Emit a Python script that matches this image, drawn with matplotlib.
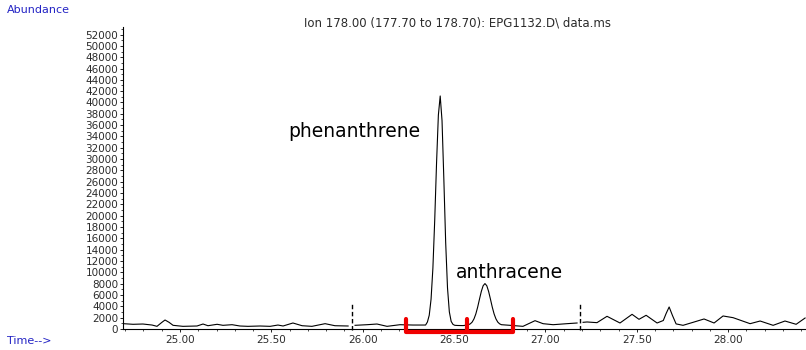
import matplotlib

matplotlib.use("Agg")

import matplotlib.pyplot as plt
from matplotlib.ticker import FormatStrFormatter, MultipleLocator

# Ion 178 trace, one list pair per acquisition segment (time in min, abundance)
seg1_time = [
    24.690, 24.743, 24.797, 24.847, 24.874, 24.901, 24.918, 24.940, 24.962,
    25.016, 25.093, 25.126, 25.153, 25.203, 25.235, 25.285, 25.328, 25.372,
    25.438, 25.493, 25.536, 25.564, 25.618, 25.668, 25.722, 25.794, 25.848,
    25.920,
]
seg1_abund = [
    940, 830, 880, 700, 470, 1180, 1590, 1180, 650,
    470, 530, 880, 580, 830, 650, 760, 530, 470,
    530, 470, 700, 530, 1060, 580, 470, 940, 580,
    530,
]

seg2_time = [
    25.958, 26.024, 26.078, 26.133, 26.204, 26.275, 26.344,
    26.354, 26.364, 26.374, 26.384, 26.394, 26.404, 26.414, 26.424,
    26.434, 26.444, 26.454, 26.464, 26.474, 26.484, 26.494, 26.504,
    26.520, 26.550, 26.579, 26.589, 26.599, 26.609, 26.619, 26.629,
    26.639, 26.649, 26.659, 26.669, 26.679, 26.689, 26.699, 26.709,
    26.719, 26.729, 26.739, 26.749, 26.759, 26.806, 26.877, 26.943,
    26.987, 27.042, 27.118, 27.173,
]
seg2_abund = [
    650, 760, 880, 470, 760, 700, 700,
    1230, 2430, 5270, 10750, 19200, 29280, 37780, 41150,
    36800, 26410, 15250, 7250, 3030, 1340, 810, 650,
    620, 600, 760, 915, 1225, 1790, 2660, 3860,
    5270, 6630, 7640, 8020, 7640, 6630, 5270, 3860,
    2660, 1790, 1225, 915, 760, 650, 470, 1470,
    940, 760, 940, 1060,
]

seg3_time = [
    27.206, 27.228, 27.282, 27.337, 27.408, 27.474, 27.512, 27.551,
    27.611, 27.645, 27.660, 27.677, 27.695, 27.715, 27.753, 27.808,
    27.868, 27.923, 27.972, 28.027, 28.120, 28.175, 28.246, 28.311,
    28.372, 28.421,
]
seg3_abund = [
    1180, 1240, 1120, 2240, 1060, 2590, 1710, 2420,
    1060, 1500, 2700, 3890, 2400, 900, 650, 1180,
    1770, 1060, 2300, 2000, 940, 1410, 650, 1410,
    830, 1940,
]

segment_breaks = [25.94, 27.19]
integration_times = [26.237, 26.571, 26.823]

x_ticks = [25.0, 25.5, 26.0, 26.5, 27.0, 27.5, 28.0]
y_ticks = list(range(0, 52001, 2000))

title = "Ion 178.00 (177.70 to 178.70): EPG1132.D\\ data.ms"

blue = "#2323c4"
ink = "#2b2b2b"

fig = plt.figure(figsize=(8.06, 3.5), dpi=100)
ax = fig.add_axes([123 / 806, 21 / 350, 683 / 806, 302 / 350])

for times, values in [
    (seg1_time, seg1_abund),
    (seg2_time, seg2_abund),
    (seg3_time, seg3_abund),
]:
    ax.plot(times, values, color="black", linewidth=0.8)

# segment boundaries
for t in segment_breaks:
    ax.plot(
        [t, t],
        [-200, 4800],
        color="black",
        linewidth=1.0,
        linestyle=(0, (3.2, 1.9)),
        clip_on=False,
    )

# integration brackets under the two peaks
low, high = -480, 1800
t0, t1, t2 = integration_times
ax.plot(
    [t0, t0, t2, t2],
    [high, low, low, high],
    color="#f00000",
    linewidth=3.0,
    solid_capstyle="round",
    solid_joinstyle="round",
    clip_on=False,
    zorder=5,
)
ax.plot(
    [t1, t1],
    [low, high],
    color="#f00000",
    linewidth=3.0,
    solid_capstyle="round",
    clip_on=False,
    zorder=5,
)

ax.text(25.591, 33900, "phenanthrene", fontsize=13.5, color="black",
        ha="left", va="baseline")
ax.text(26.511, 9000, "anthracene", fontsize=13.5, color="black",
        ha="left", va="baseline")

ax.set_xlim(24.688, 28.426)
ax.set_ylim(0, 53330)

ax.set_xticks(x_ticks)
ax.xaxis.set_major_formatter(FormatStrFormatter("%.2f"))
ax.xaxis.set_minor_locator(MultipleLocator(0.1))
ax.set_yticks(y_ticks)
ax.yaxis.set_minor_locator(MultipleLocator(1000))

ax.tick_params(axis="x", which="major", direction="out", length=2.5,
               width=0.6, pad=1.5, labelsize=7.5, labelcolor=ink)
ax.tick_params(axis="x", which="minor", direction="out", length=1.5,
               width=0.5)
ax.tick_params(axis="y", which="major", direction="out", length=2.5,
               width=0.6, pad=1, labelsize=7.5, labelcolor=ink)
ax.tick_params(axis="y", which="minor", direction="out", length=1.5,
               width=0.5)

for side in ["top", "right"]:
    ax.spines[side].set_visible(False)
for side in ["left", "bottom"]:
    ax.spines[side].set_linewidth(0.8)

fig.text(458 / 806, 1 - 23 / 350, title, fontsize=8.5, color=ink,
         ha="center", va="center")
fig.text(7 / 806, 1 - 10 / 350, "Abundance", fontsize=8, color=blue,
         ha="left", va="center")
fig.text(7 / 806, 1 - 341 / 350, "Time-->", fontsize=8, color=blue,
         ha="left", va="center")

fig.savefig("out.png", dpi=100)
plt.close(fig)
